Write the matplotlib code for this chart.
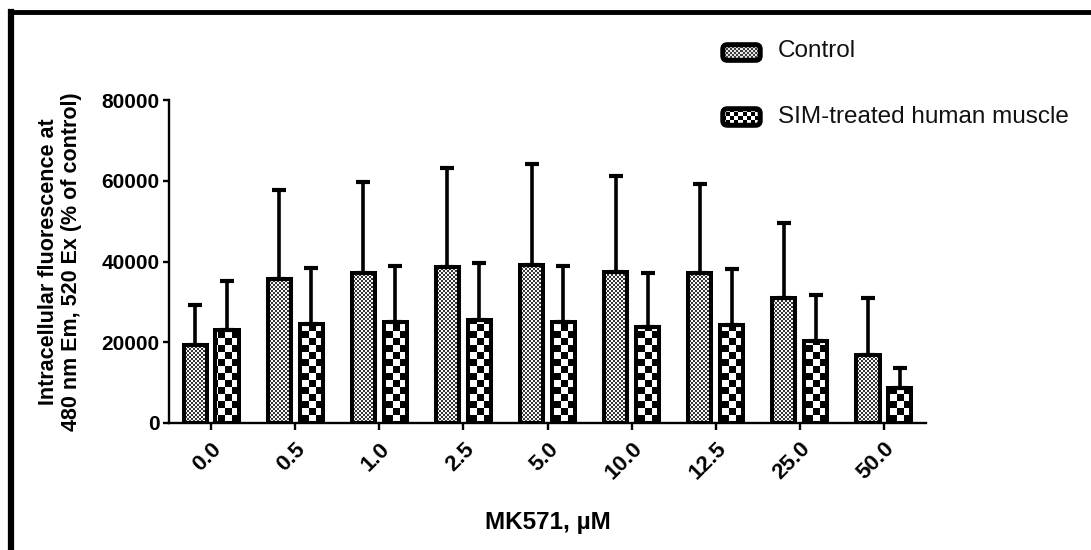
import numpy as np
import matplotlib
matplotlib.use("Agg")
import matplotlib.pyplot as plt
from matplotlib.path import Path
from matplotlib.lines import Line2D
from matplotlib.patches import FancyBboxPatch

# ---- data -------------------------------------------------------------
concentrations = ["0.0", "0.5", "1.0", "2.5", "5.0", "10.0", "12.5", "25.0", "50.0"]
control_mean = [19300, 35700, 37200, 38700, 39200, 37400, 37200, 31000, 16900]
control_err = [9900, 22000, 22500, 24500, 25000, 23800, 22000, 18600, 14100]
sim_mean = [23000, 24500, 25000, 25500, 25000, 23800, 24300, 20300, 8700]
sim_err = [12200, 13900, 13900, 14100, 13900, 13400, 13900, 11400, 4900]
series_names = ["Control", "SIM-treated human muscle"]
y_ticks = [0, 20000, 40000, 60000, 80000]

plt.rcParams["font.family"] = ["Liberation Sans", "DejaVu Sans"]

W, H, DPI = 1091, 550, 100
fig = plt.figure(figsize=(W / DPI, H / DPI), dpi=DPI)
fig.patch.set_facecolor("white")

ax_l, ax_r, ax_t, ax_b = 169, 926, 100, 423
ax = fig.add_axes([ax_l / W, 1 - ax_b / H, (ax_r - ax_l) / W, (ax_b - ax_t) / H])
ax.set_facecolor("white")

x = np.arange(len(concentrations))
bw = 0.275
off = 0.19

FINE = dict(cell=2, dark=(0.22, 0.22, 0.22), light=(0.97, 0.97, 0.97))
COARSE = dict(cell=7, dark=(0.0, 0.0, 0.0), light=(1.0, 1.0, 1.0))


def checker(h, w, cell, dark, light):
    i = np.arange(h)[:, None] // cell
    j = np.arange(w)[None, :] // cell
    mask = (i + j) % 2 == 0
    img = np.empty((h, w, 3))
    img[mask] = dark
    img[~mask] = light
    return img


def compound(bars):
    paths = [b.get_path().transformed(b.get_patch_transform()) for b in bars]
    return Path.make_compound_path(*paths)


b1 = ax.bar(x - off, control_mean, bw, facecolor="none", edgecolor="black",
            linewidth=2.9, zorder=3)
b2 = ax.bar(x + off, sim_mean, bw, facecolor="none", edgecolor="black",
            linewidth=2.9, zorder=3)

ax.errorbar(x - off, control_mean, yerr=[np.zeros(len(x)), control_err], fmt="none",
            ecolor="black", elinewidth=2.6, capsize=4.8, capthick=3.0, zorder=4)
ax.errorbar(x + off, sim_mean, yerr=[np.zeros(len(x)), sim_err], fmt="none",
            ecolor="black", elinewidth=2.6, capsize=4.8, capthick=3.0, zorder=4)

xlim = (-0.5, len(x) - 0.5)
ylim = (0, 80000)
pw, ph = ax_r - ax_l, ax_b - ax_t

for style, bars in ((FINE, b1), (COARSE, b2)):
    im = ax.imshow(checker(ph, pw, **style), extent=[xlim[0], xlim[1], ylim[0], ylim[1]],
                   aspect="auto", interpolation="nearest", zorder=2, origin="upper")
    im.set_clip_path(compound(bars), ax.transData)

ax.set_xlim(*xlim)
ax.set_ylim(*ylim)

for s in ("top", "right"):
    ax.spines[s].set_visible(False)
for s in ("left", "bottom"):
    ax.spines[s].set_linewidth(1.7)

ax.set_yticks(y_ticks)
ax.set_yticklabels([str(v) for v in y_ticks], fontsize=15, fontweight="bold")
ax.set_xticks(x)
ax.set_xticklabels(concentrations, fontsize=16, fontweight="bold", rotation=45,
                   ha="right", rotation_mode="anchor")
ax.tick_params(axis="y", direction="out", length=4.5, width=1.7, pad=2.5)
ax.tick_params(axis="x", direction="out", length=5, width=1.7, pad=6)

ax.set_ylabel("Intracellular fluorescence at\n480 nm Em, 520 Ex (% of control)",
              fontsize=15.5, fontweight="bold", multialignment="center", va="center",
              linespacing=1.15)
ax.yaxis.set_label_coords((60 - ax_l) / pw, 0.5)
ax.set_xlabel("MK571, \u00b5M", fontsize=17.5, fontweight="bold", va="center")
ax.xaxis.set_label_coords(0.5, (ax_b - 522) / ph)


# ---- legend keys ------------------------------------------------------
def legend_key(x0, y0, x1, y1, style, label, ty):
    kax = fig.add_axes([x0 / W, 1 - y1 / H, (x1 - x0) / W, (y1 - y0) / H])
    kax.imshow(checker(int(y1 - y0), int(x1 - x0), **style),
               interpolation="nearest", aspect="auto")
    kax.set_xticks([])
    kax.set_yticks([])
    for sp in kax.spines.values():
        sp.set_visible(False)
    kax.add_patch(FancyBboxPatch((0.02, 0.04), 0.96, 0.92,
                                 boxstyle="round,pad=0,rounding_size=0.12",
                                 transform=kax.transAxes, facecolor="none",
                                 edgecolor="black", linewidth=3.6, clip_on=False,
                                 mutation_aspect=(x1 - x0) / (y1 - y0)))
    fig.text(778 / W, 1 - ty / H, label, fontsize=17.5, ha="left", va="center",
             color="#111111")


legend_key(722, 44, 761, 61, dict(cell=2, dark=(0.25, 0.25, 0.25), light=(0.9, 0.9, 0.9)),
           series_names[0], 51)
legend_key(722, 108, 761, 126, dict(cell=4, dark=(0.0, 0.0, 0.0), light=(1.0, 1.0, 1.0)),
           series_names[1], 117)

# ---- outer frame (left and top edges) ---------------------------------
fig.add_artist(Line2D([11 / W, 11 / W], [0, 1 - 12 / H], color="black",
                      linewidth=4.5, transform=fig.transFigure, solid_capstyle="projecting"))
fig.add_artist(Line2D([11 / W, 1], [1 - 12 / H, 1 - 12 / H], color="black",
                      linewidth=3.5, transform=fig.transFigure, solid_capstyle="projecting"))

fig.savefig("out.png", dpi=DPI, facecolor="white")
